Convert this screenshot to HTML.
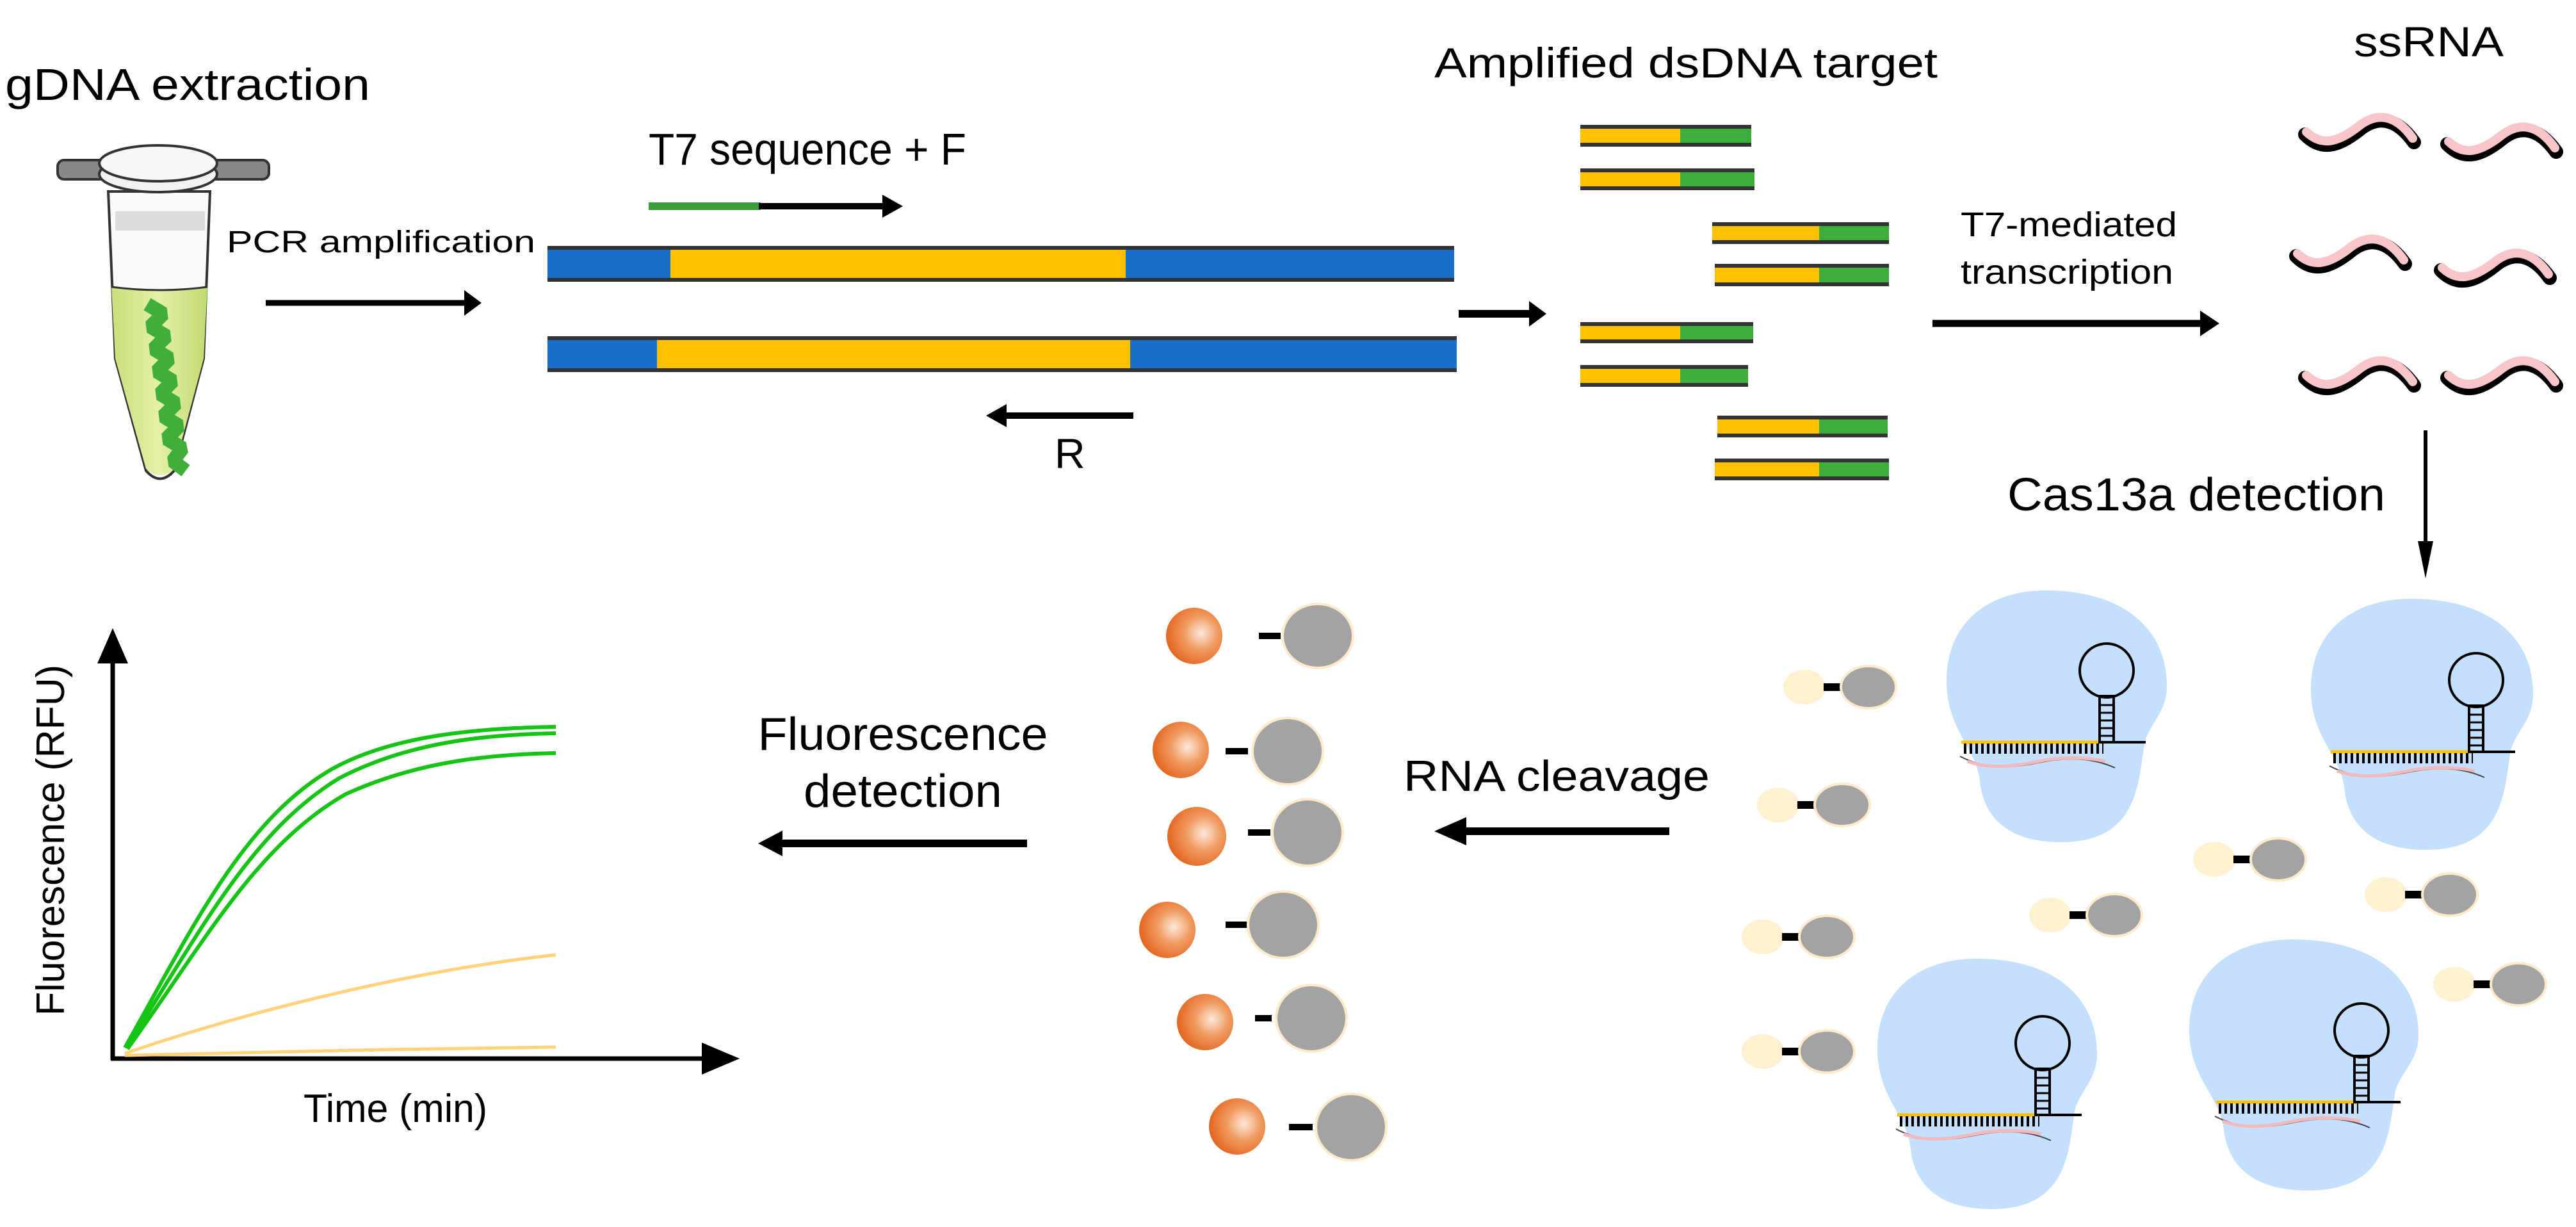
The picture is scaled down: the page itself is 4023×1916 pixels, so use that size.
<!DOCTYPE html>
<html><head><meta charset="utf-8"><style>
html,body{margin:0;padding:0;background:#fff;}
svg{display:block;}
text{font-family:"Liberation Sans",Arial,sans-serif;fill:#000;}
</style></head><body>
<svg width="4023" height="1916" viewBox="0 0 4023 1916" xmlns="http://www.w3.org/2000/svg">
<defs>
<radialGradient id="og" cx="0.62" cy="0.45" r="0.6">
<stop offset="0" stop-color="#fde9dc"/><stop offset="0.5" stop-color="#f09a60"/><stop offset="1" stop-color="#e46a24"/>
</radialGradient>
<linearGradient id="liq" x1="0" x2="1"><stop offset="0" stop-color="#c8e07a"/><stop offset="0.5" stop-color="#e4f0a8"/><stop offset="1" stop-color="#c0da70"/></linearGradient>
<g id="hp">
<line x1="0" y1="0" x2="222" y2="0" stroke="#ffc000" stroke-width="5"/>
<line x1="4" y1="10" x2="222" y2="10" stroke="#000" stroke-width="16" stroke-dasharray="4 5"/>
<path d="M-2,22 C40,44 80,40 120,32 C160,24 200,22 240,40" fill="none" stroke="#444" stroke-width="2"/>
<path d="M10,30 C50,44 90,36 130,28 C170,22 200,24 225,30" fill="none" stroke="#f2b8bc" stroke-width="5"/>
<rect x="216" y="-72" width="22" height="72" fill="none" stroke="#000" stroke-width="4"/>
<line x1="216" y1="-58" x2="238" y2="-58" stroke="#000" stroke-width="3"/>
<line x1="216" y1="-46" x2="238" y2="-46" stroke="#000" stroke-width="3"/>
<line x1="216" y1="-34" x2="238" y2="-34" stroke="#000" stroke-width="3"/>
<line x1="216" y1="-22" x2="238" y2="-22" stroke="#000" stroke-width="3"/>
<line x1="216" y1="-10" x2="238" y2="-10" stroke="#000" stroke-width="3"/>
<circle cx="227" cy="-112" r="42" fill="none" stroke="#000" stroke-width="4"/>
<line x1="238" y1="0" x2="288" y2="0" stroke="#000" stroke-width="4"/>
</g>
<path id="blob" d="M0.45,0 C0.8,0 1,0.15 1,0.38 C1,0.48 0.93,0.52 0.9,0.6 C0.87,0.75 0.88,1 0.52,1 C0.22,1 0.16,0.85 0.15,0.75 C0.13,0.62 0,0.55 0,0.36 C0,0.12 0.2,0 0.45,0 Z" fill="#c4e0fc"/>
<g id="rep">
<ellipse cx="0" cy="0" rx="33" ry="27" fill="#fff0cf"/>
<rect x="30" y="-6" width="26" height="12" fill="#000"/>
<ellipse cx="100" cy="0" rx="43" ry="33" fill="#a3a3a3" stroke="#ffeacc" stroke-width="4"/>
</g>
<g id="rna">
<path d="M0,30 C25,55 50,50 85,22 C110,2 140,0 170,42" fill="none" stroke="#000" stroke-width="22" stroke-linecap="round"/>
<path d="M2,26 C25,48 50,44 85,16 C110,-3 140,-4 168,36" fill="none" stroke="#f8c6c8" stroke-width="14" stroke-linecap="round"/>
</g>
</defs>

<!-- Top labels -->
<text x="8" y="156" font-size="70" textLength="570" lengthAdjust="spacingAndGlyphs">gDNA extraction</text>
<text x="354" y="394" font-size="48" textLength="482" lengthAdjust="spacingAndGlyphs">PCR amplification</text>
<text x="1013" y="257" font-size="70" textLength="496" lengthAdjust="spacingAndGlyphs">T7 sequence + F</text>
<text x="2240" y="121" font-size="66" textLength="786" lengthAdjust="spacingAndGlyphs">Amplified dsDNA target</text>
<text x="3676" y="88" font-size="66" textLength="234" lengthAdjust="spacingAndGlyphs">ssRNA</text>
<text x="3062" y="369" font-size="54" textLength="338" lengthAdjust="spacingAndGlyphs">T7-mediated</text>
<text x="3062" y="443" font-size="54" textLength="332" lengthAdjust="spacingAndGlyphs">transcription</text>
<text x="1647" y="731" font-size="66">R</text>
<text x="3135" y="797" font-size="72" textLength="590" lengthAdjust="spacingAndGlyphs">Cas13a detection</text>

<!-- Tube -->
<path d="M169,299 L328,299 L318,560 L272,735 Q250,760 228,735 L180,560 Z" fill="#fafafa" stroke="#333" stroke-width="4"/>
<path d="M174,448 Q250,455 324,448 L318,560 L272,732 Q250,752 228,732 L180,560 Z" fill="url(#liq)"/>
<path d="M174,448 Q250,458 324,448" fill="none" stroke="#333" stroke-width="3"/>
<path d="M230,475 l25,15 -20,20 25,15 -20,20 25,15 -20,20 25,15 -20,20 25,15 -20,20 25,15 -20,20 25,15 -15,20 20,15" fill="none" stroke="#3fae3a" stroke-width="22" stroke-linejoin="bevel"/>
<rect x="180" y="330" width="140" height="30" fill="#ddd"/>
<rect x="90" y="250" width="330" height="30" rx="10" fill="#888" stroke="#333" stroke-width="4"/>
<ellipse cx="247" cy="272" rx="92" ry="28" fill="#f2f2f2" stroke="#333" stroke-width="4"/>
<ellipse cx="247" cy="255" rx="92" ry="28" fill="#f7f7f7" stroke="#333" stroke-width="4"/>

<!-- PCR arrow -->
<line x1="415" y1="473" x2="730" y2="473" stroke="#000" stroke-width="9"/>
<polygon points="752,473 725,453 725,493" fill="#000"/>

<!-- Long dsDNA -->
<rect x="855" y="386" width="1416" height="52" fill="#1a70c8"/>
<rect x="1047" y="386" width="711" height="52" fill="#ffc000"/>
<rect x="855" y="384" width="1416" height="6" fill="#333"/>
<rect x="855" y="434" width="1416" height="6" fill="#333"/>
<rect x="855" y="527" width="1420" height="52" fill="#1a70c8"/>
<rect x="1026" y="527" width="739" height="52" fill="#ffc000"/>
<rect x="855" y="525" width="1420" height="6" fill="#333"/>
<rect x="855" y="575" width="1420" height="6" fill="#333"/>

<!-- primers -->
<rect x="1013" y="316" width="175" height="12" fill="#3a9c3a"/>
<line x1="1185" y1="322" x2="1380" y2="322" stroke="#000" stroke-width="10"/>
<polygon points="1410,322 1378,304 1378,340" fill="#000"/>
<line x1="1568" y1="649" x2="1770" y2="649" stroke="#000" stroke-width="10"/>
<polygon points="1540,649 1572,631 1572,667" fill="#000"/>

<!-- small arrow -->
<line x1="2278" y1="490" x2="2390" y2="490" stroke="#000" stroke-width="12"/>
<polygon points="2415,490 2388,470 2388,510" fill="#000"/>

<!-- Short amplicons -->
<g>
<g transform="translate(2468,195)"><rect width="267" height="34" fill="#3cae3c"/><rect width="156" height="34" fill="#ffc000"/><rect width="267" height="6" fill="#333"/><rect y="28" width="267" height="6" fill="#333"/></g>
<g transform="translate(2468,263)"><rect width="272" height="34" fill="#3cae3c"/><rect width="156" height="34" fill="#ffc000"/><rect width="272" height="6" fill="#333"/><rect y="28" width="272" height="6" fill="#333"/></g>
<g transform="translate(2674,347)"><rect width="276" height="34" fill="#3cae3c"/><rect width="167" height="34" fill="#ffc000"/><rect width="276" height="6" fill="#333"/><rect y="28" width="276" height="6" fill="#333"/></g>
<g transform="translate(2678,412)"><rect width="272" height="35" fill="#3cae3c"/><rect width="163" height="35" fill="#ffc000"/><rect width="272" height="6" fill="#333"/><rect y="29" width="272" height="6" fill="#333"/></g>
<g transform="translate(2468,503)"><rect width="270" height="33" fill="#3cae3c"/><rect width="156" height="33" fill="#ffc000"/><rect width="270" height="6" fill="#333"/><rect y="27" width="270" height="6" fill="#333"/></g>
<g transform="translate(2468,570)"><rect width="262" height="34" fill="#3cae3c"/><rect width="156" height="34" fill="#ffc000"/><rect width="262" height="6" fill="#333"/><rect y="28" width="262" height="6" fill="#333"/></g>
<g transform="translate(2682,649)"><rect width="266" height="34" fill="#3cae3c"/><rect width="159" height="34" fill="#ffc000"/><rect width="266" height="6" fill="#333"/><rect y="28" width="266" height="6" fill="#333"/></g>
<g transform="translate(2678,716)"><rect width="272" height="34" fill="#3cae3c"/><rect width="163" height="34" fill="#ffc000"/><rect width="272" height="6" fill="#333"/><rect y="28" width="272" height="6" fill="#333"/></g>
</g>

<!-- T7 arrow -->
<line x1="3018" y1="505" x2="3440" y2="505" stroke="#000" stroke-width="11"/>
<polygon points="3466,505 3436,485 3436,525" fill="#000"/>

<!-- ssRNA -->
<use href="#rna" x="3600" y="180"/>
<use href="#rna" x="3822" y="195"/>
<use href="#rna" x="3586" y="370"/>
<use href="#rna" x="3812" y="392"/>
<use href="#rna" x="3600" y="560"/>
<use href="#rna" x="3822" y="560"/>

<!-- Cas13a arrow -->
<line x1="3788" y1="672" x2="3788" y2="850" stroke="#000" stroke-width="6"/>
<polygon points="3788,903 3776,845 3800,845" fill="#000"/>

<!-- Blobs -->
<use href="#blob" transform="translate(3040,922) scale(344,393)"/>
<use href="#blob" transform="translate(3609,935) scale(347,392)"/>
<use href="#blob" transform="translate(2932,1497) scale(343,391)"/>
<use href="#blob" transform="translate(3419,1467) scale(358,392)"/>
<use href="#hp" x="3063" y="1159"/>
<use href="#hp" x="3640" y="1174"/>
<use href="#hp" x="2963" y="1741"/>
<use href="#hp" x="3461" y="1721"/>

<!-- reporters intact -->
<use href="#rep" x="2818" y="1073"/>
<use href="#rep" x="2777" y="1257"/>
<use href="#rep" x="2753" y="1463"/>
<use href="#rep" x="2753" y="1642"/>
<use href="#rep" x="3202" y="1429"/>
<use href="#rep" x="3458" y="1342"/>
<use href="#rep" x="3726" y="1397"/>
<use href="#rep" x="3833" y="1537"/>

<!-- RNA cleavage -->
<text x="2192" y="1235" font-size="68" textLength="478" lengthAdjust="spacingAndGlyphs">RNA cleavage</text>
<line x1="2270" y1="1298" x2="2607" y2="1298" stroke="#000" stroke-width="12"/>
<polygon points="2240,1298 2290,1276 2290,1320" fill="#000"/>

<!-- cleaved reporters -->
<g>
<circle cx="1865" cy="993" r="44" fill="url(#og)"/>
<rect x="1966" y="988" width="34" height="10" fill="#000"/>
<ellipse cx="2058" cy="993" rx="55" ry="50" fill="#a3a3a3" stroke="#ffeacc" stroke-width="4"/>
<circle cx="1844" cy="1171" r="44" fill="url(#og)"/>
<rect x="1914" y="1168" width="35" height="10" fill="#000"/>
<ellipse cx="2011" cy="1173" rx="55" ry="52" fill="#a3a3a3" stroke="#ffeacc" stroke-width="4"/>
<circle cx="1869" cy="1306" r="46" fill="url(#og)"/>
<rect x="1949" y="1295" width="35" height="10" fill="#000"/>
<ellipse cx="2042" cy="1300" rx="55" ry="52" fill="#a3a3a3" stroke="#ffeacc" stroke-width="4"/>
<circle cx="1823" cy="1452" r="44" fill="url(#og)"/>
<rect x="1914" y="1439" width="35" height="10" fill="#000"/>
<ellipse cx="2004" cy="1444" rx="55" ry="52" fill="#a3a3a3" stroke="#ffeacc" stroke-width="4"/>
<circle cx="1882" cy="1596" r="44" fill="url(#og)"/>
<rect x="1960" y="1585" width="26" height="10" fill="#000"/>
<ellipse cx="2048" cy="1590" rx="55" ry="52" fill="#a3a3a3" stroke="#ffeacc" stroke-width="4"/>
<circle cx="1932" cy="1759" r="44" fill="url(#og)"/>
<rect x="2013" y="1755" width="37" height="10" fill="#000"/>
<ellipse cx="2110" cy="1760" rx="55" ry="52" fill="#a3a3a3" stroke="#ffeacc" stroke-width="4"/>
</g>

<!-- Fluorescence detection -->
<text x="1410" y="1171" font-size="72" text-anchor="middle" textLength="453" lengthAdjust="spacingAndGlyphs">Fluorescence</text>
<text x="1410" y="1260" font-size="72" text-anchor="middle" textLength="310" lengthAdjust="spacingAndGlyphs">detection</text>
<line x1="1215" y1="1317" x2="1604" y2="1317" stroke="#000" stroke-width="12"/>
<polygon points="1184,1317 1222,1297 1222,1337" fill="#000"/>

<!-- Graph -->
<line x1="176" y1="1655" x2="176" y2="1020" stroke="#000" stroke-width="7"/>
<polygon points="176,981 152,1036 200,1036" fill="#000"/>
<line x1="173" y1="1653" x2="1110" y2="1653" stroke="#000" stroke-width="7"/>
<polygon points="1155,1653 1096,1628 1096,1678" fill="#000"/>
<text transform="translate(100,1312) rotate(-90)" font-size="62" text-anchor="middle" textLength="548" lengthAdjust="spacingAndGlyphs">Fluorescence (RFU)</text>
<text x="474" y="1752" font-size="62" textLength="287" lengthAdjust="spacingAndGlyphs">Time (min)</text>
<path d="M195,1636 C300,1450 380,1280 520,1200 C620,1145 760,1137 868,1135" fill="none" stroke="#16c416" stroke-width="6"/>
<path d="M197,1636 C310,1460 390,1300 530,1215 C640,1158 760,1147 868,1145" fill="none" stroke="#16c416" stroke-width="6"/>
<path d="M199,1638 C320,1470 400,1320 540,1240 C650,1190 760,1178 868,1176" fill="none" stroke="#16c416" stroke-width="6"/>
<path d="M195,1645 C400,1575 650,1515 868,1491" fill="none" stroke="#ffd27a" stroke-width="5"/>
<path d="M195,1648 C400,1642 650,1638 868,1635" fill="none" stroke="#ffd27a" stroke-width="5"/>
</svg>
</body></html>
